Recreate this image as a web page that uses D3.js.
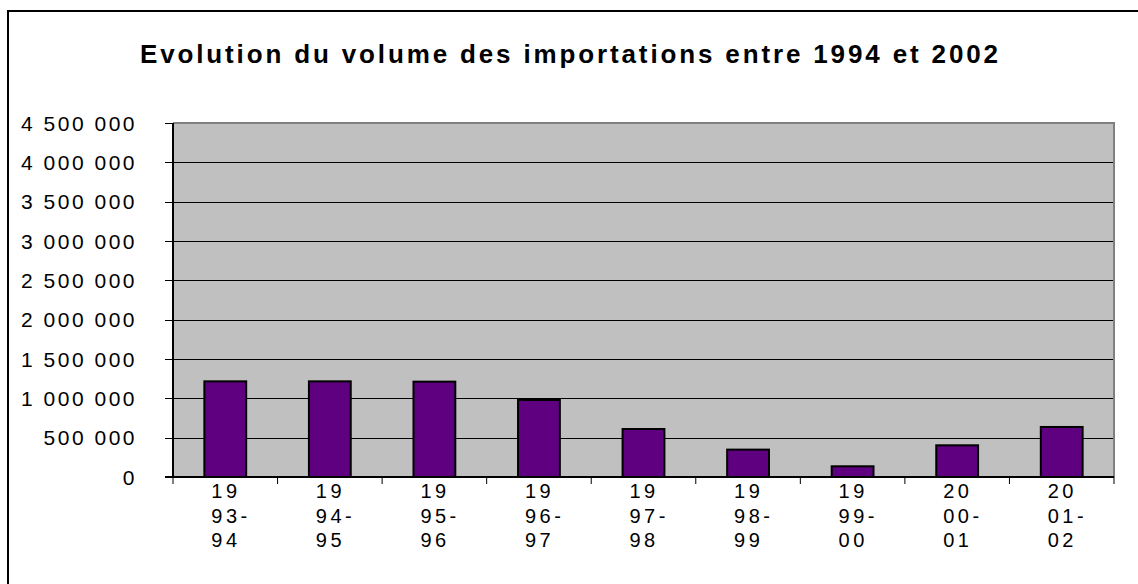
<!DOCTYPE html>
<html>
<head>
<meta charset="utf-8">
<script src="https://cdn.jsdelivr.net/npm/d3@7"></script>
<style>
  body { margin: 0; background: #fff; }
  svg { display: block; font-family: "Liberation Sans", Arial, sans-serif; }
</style>
</head>
<body>
<div id="chart"></div>
<script>
// data
const title = "Evolution du volume des importations entre 1994 et 2002";
const categories = ["1993-94", "1994-95", "1995-96", "1996-97", "1997-98", "1998-99", "1999-00", "2000-01", "2001-02"];
const volumes = [1216000, 1216000, 1212000, 979000, 610000, 348000, 136000, 403000, 636000];
const yTicks = [0, 500000, 1000000, 1500000, 2000000, 2500000, 3000000, 3500000, 4000000, 4500000];

const width = 1138, height = 584;
const plot = {left: 173, right: 1114, top: 123, bottom: 477};

const svg = d3.select("#chart").append("svg")
    .attr("width", width)
    .attr("height", height);

// outer chart frame (runs off the right and bottom of the picture)
svg.append("rect")
    .attr("x", 8).attr("y", 11)
    .attr("width", 1140).attr("height", 590)
    .style("fill", "#fff")
    .style("stroke", "#000")
    .style("stroke-width", 2);

svg.append("text")
    .attr("x", 569)
    .attr("y", 63)
    .attr("text-anchor", "middle")
    .attr("textLength", 858)
    .attr("lengthAdjust", "spacing")
    .style("font-size", "26px")
    .style("font-weight", "bold")
    .style("fill", "#000")
    .text(title);

const x = d3.scaleBand()
    .domain(categories)
    .range([plot.left, plot.right])
    .paddingInner(0.6)
    .paddingOuter(0.3);

const y = d3.scaleLinear()
    .domain([0, 4500000])
    .range([plot.bottom, plot.top]);

const fmt = d3.formatLocale({decimal: ",", thousands: " ", grouping: [3], currency: ["", " €"]}).format(",d");

// plot area background
svg.append("rect")
    .attr("x", plot.left).attr("y", plot.top)
    .attr("width", plot.right - plot.left)
    .attr("height", plot.bottom - plot.top)
    .style("fill", "#c0c0c0");

// gridlines
svg.selectAll("line.grid")
    .data(yTicks.filter(t => t > 0 && t < 4500000))
    .enter()
    .append("line")
    .attr("class", "grid")
    .attr("x1", plot.left).attr("x2", plot.right)
    .attr("y1", d => Math.round(y(d)) + 0.5)
    .attr("y2", d => Math.round(y(d)) + 0.5)
    .style("stroke", "#000")
    .style("stroke-width", 1);

// top and right border of plot area
svg.append("path")
    .attr("d", `M${plot.left},${plot.top} H${plot.right} V${plot.bottom}`)
    .style("fill", "none")
    .style("stroke", "#808080")
    .style("stroke-width", 2);

// bars
svg.selectAll("rect.bar")
    .data(volumes)
    .enter()
    .append("rect")
    .attr("class", "bar")
    .attr("x", (d, i) => x(categories[i]))
    .attr("y", d => y(d))
    .attr("width", x.bandwidth())
    .attr("height", d => y(0) - y(d))
    .style("fill", "#5f0080")
    .style("stroke", "#000")
    .style("stroke-width", 2);

// y axis
svg.append("line")
    .attr("x1", plot.left).attr("x2", plot.left)
    .attr("y1", plot.top).attr("y2", plot.bottom)
    .style("stroke", "#000")
    .style("stroke-width", 2);

svg.selectAll("line.ytick")
    .data(yTicks)
    .enter()
    .append("line")
    .attr("class", "ytick")
    .attr("x1", plot.left - 8).attr("x2", plot.left)
    .attr("y1", d => Math.round(y(d)) + 0.5)
    .attr("y2", d => Math.round(y(d)) + 0.5)
    .style("stroke", "#000")
    .style("stroke-width", 1);

svg.selectAll("text.ylab")
    .data(yTicks)
    .enter()
    .append("text")
    .attr("class", "ylab")
    .attr("x", 137)
    .attr("y", d => y(d))
    .attr("dy", "0.36em")
    .attr("text-anchor", "end")
    .style("font-size", "21px")
    .style("letter-spacing", "2.5px")
    .style("fill", "#000")
    .text(d => fmt(d));

// x axis
svg.append("line")
    .attr("x1", plot.left - 8).attr("x2", plot.right)
    .attr("y1", plot.bottom).attr("y2", plot.bottom)
    .style("stroke", "#000")
    .style("stroke-width", 2);

const gap = (x.step() - x.bandwidth()) / 2;
const bounds = categories.map(c => x(c) - gap).concat([x(categories[categories.length - 1]) + x.bandwidth() + gap]);

svg.selectAll("line.xtick")
    .data(bounds)
    .enter()
    .append("line")
    .attr("class", "xtick")
    .attr("x1", d => d).attr("x2", d => d)
    .attr("y1", plot.bottom).attr("y2", plot.bottom + 7)
    .style("stroke", "#000")
    .style("stroke-width", 1);

// wrapped category labels: "19" / "93-" / "94"
const xlab = svg.selectAll("text.xlab")
    .data(categories)
    .enter()
    .append("text")
    .attr("class", "xlab")
    .attr("y", plot.bottom + 21)
    .style("font-size", "20px")
    .style("letter-spacing", "3.5px")
    .style("fill", "#000");

xlab.each(function(d) {
    let lines = [d.slice(0, 2), d.slice(2, 5), d.slice(5)];
    let t = d3.select(this);
    lines.forEach((s, k) => {
        t.append("tspan")
            .attr("x", x(d) + x.bandwidth() / 2 - 14)
            .attr("dy", k == 0 ? 0 : 24.7)
            .text(s);
    });
});
</script>
</body>
</html>
